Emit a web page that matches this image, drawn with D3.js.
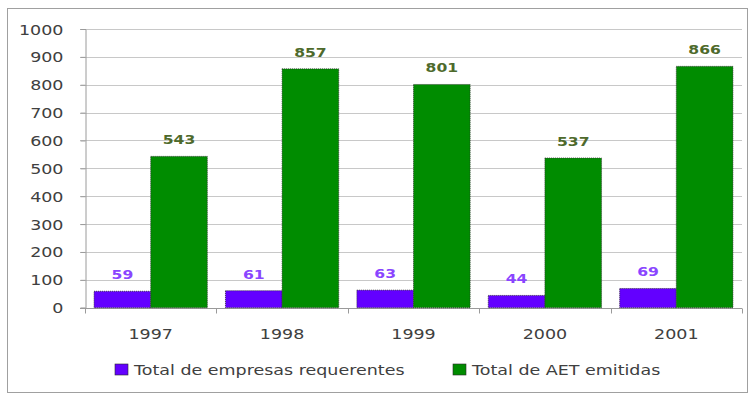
<!DOCTYPE html>
<html>
<head>
<meta charset="utf-8">
<script src="https://cdn.jsdelivr.net/npm/d3@7"></script>
<style>
  body { margin: 0; background: #fff; }
  text { font-family: "DejaVu Sans", sans-serif; }
</style>
</head>
<body>
<div id="chart"></div>
<script>
// data
var years = ["1997", "1998", "1999", "2000", "2001"];
var empresas = [59, 61, 63, 44, 69];
var aet = [543, 857, 801, 537, 866];
var seriesNames = ["Total de empresas requerentes", "Total de AET emitidas"];
var yTicks = [0, 100, 200, 300, 400, 500, 600, 700, 800, 900, 1000];

var width = 754, height = 395;
var margin = { top: 29, right: 12, bottom: 87, left: 85 };
var colors = ["#6300ff", "#008c00"];
var labelColors = ["#8a45ff", "#4e6a2c"];
var sx = 1.25; // text in the picture is stretched sideways

var svg = d3.select("#chart").append("svg")
    .attr("width", width)
    .attr("height", height);

// outer frame
svg.append("rect")
    .attr("x", 7.5).attr("y", 8.5)
    .attr("width", 740).attr("height", 384)
    .attr("fill", "none")
    .attr("stroke", "#a0a0a0");

var x = d3.scaleBand()
    .domain(years)
    .range([margin.left, width - margin.right]);

var y = d3.scaleLinear()
    .domain([0, 1000])
    .range([height - margin.bottom - 0.3, margin.top]);

var inner = d3.scaleBand()
    .domain([0, 1])
    .range([0, x.bandwidth()])
    .paddingOuter(0.16)
    .paddingInner(0);

// gridlines
svg.append("g")
    .selectAll("line")
    .data(yTicks.filter(d => d > 0))
    .enter()
    .append("line")
    .attr("x1", margin.left - 5)
    .attr("x2", x.range()[1])
    .attr("y1", d => Math.round(y(d)) + 0.5)
    .attr("y2", d => Math.round(y(d)) + 0.5)
    .attr("stroke", "#c8c8c8");

// y axis
var yAxis = svg.append("g")
    .attr("transform", "translate(" + (margin.left + 0.5) + ",0)")
    .call(d3.axisLeft(y).tickValues(yTicks).tickSize(5).tickPadding(0).tickFormat(d3.format("d")));
yAxis.select(".domain").attr("stroke", "#9a9a9a");
yAxis.selectAll(".tick line").attr("stroke", "#9a9a9a");
yAxis.selectAll(".tick text")
    .attr("x", null).attr("dy", null)
    .attr("fill", "#404040")
    .style("font-size", "14px")
    .attr("text-anchor", "end")
    .attr("transform", "translate(-22,5) scale(" + sx + ",1)");

// x axis
var x0 = svg.append("g")
    .attr("transform", "translate(0," + (Math.round(y(0)) + 0.5) + ")");
x0.append("line")
    .attr("x1", margin.left - 5).attr("x2", x.range()[1])
    .attr("stroke", "#9a9a9a");
x0.selectAll(".tk")
    .data(years.concat([null]))
    .enter()
    .append("line")
    .attr("x1", (d, i) => Math.round(x.range()[0] + i * x.step()) + 0.5)
    .attr("x2", (d, i) => Math.round(x.range()[0] + i * x.step()) + 0.5)
    .attr("y1", 0).attr("y2", 5)
    .attr("stroke", "#9a9a9a");
x0.selectAll("text")
    .data(years)
    .enter()
    .append("text")
    .text(d => d)
    .attr("text-anchor", "middle")
    .attr("fill", "#404040")
    .style("font-size", "14px")
    .attr("transform", d => "translate(" + (x(d) + x.bandwidth() / 2) + ",30) scale(" + sx + ",1)");

// bars
[empresas, aet].forEach(function (vals, s) {
    svg.append("g")
        .selectAll("rect")
        .data(vals)
        .enter()
        .append("rect")
        .attr("x", (d, i) => x(years[i]) + inner(s))
        .attr("width", inner.bandwidth())
        .attr("y", d => y(d))
        .attr("height", d => y(0) - y(d))
        .attr("fill", colors[s])
        .attr("stroke", "#2b2b2b")
        .attr("stroke-width", 0.8)
        .attr("stroke-dasharray", "1,1");

    svg.append("g")
        .selectAll("text")
        .data(vals)
        .enter()
        .append("text")
        .text(d => d)
        .attr("text-anchor", "middle")
        .attr("fill", labelColors[s])
        .style("font-size", "13px")
        .style("font-weight", "bold")
        .attr("transform", (d, i) => "translate(" + (x(years[i]) + inner(s) + inner.bandwidth() / 2) + "," + (y(d) - 12) + ") scale(1.2,1)");
});

// legend
var legendX = [115, 453];
var legend = svg.append("g");
seriesNames.forEach(function (name, s) {
    legend.append("rect")
        .attr("x", legendX[s]).attr("y", 364)
        .attr("width", 13).attr("height", 11)
        .attr("fill", colors[s])
        .attr("stroke", "#2b2b2b")
        .attr("stroke-width", 0.6);
    legend.append("text")
        .text(name)
        .attr("fill", "#404040")
        .style("font-size", "14px")
        .attr("transform", "translate(" + (legendX[s] + 19) + ",375) scale(" + sx + ",1)");
});
</script>
</body>
</html>
